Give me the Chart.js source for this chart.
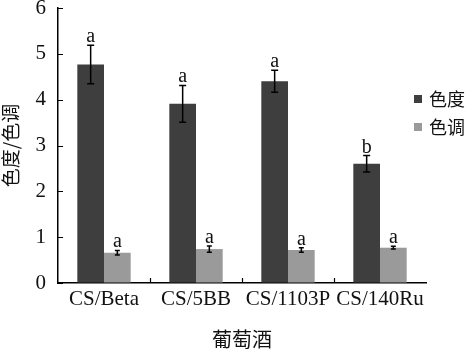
<!DOCTYPE html>
<html>
<head>
<meta charset="utf-8">
<script src="https://cdn.jsdelivr.net/npm/chart.js@4.4.0/dist/chart.umd.min.js"></script>
<style>
  html, body { margin: 0; padding: 0; background: #fff; }
  #wrap { width: 472px; height: 349px; }
</style>
</head>
<body>
<div id="wrap"><canvas id="chart"></canvas></div>
<script>
const wines = ["CS/Beta", "CS/5BB", "CS/1103P", "CS/140Ru"]
const seriesNames = ["色度", "色调"]
const intensity = [4.77, 3.91, 4.40, 2.60]
const intensityErr = [0.42, 0.40, 0.24, 0.18]
const intensityLetters = ["a", "a", "a", "b"]
const hue = [0.66, 0.74, 0.72, 0.77]
const hueErr = [0.05, 0.07, 0.05, 0.03]
const hueLetters = ["a", "a", "a", "a"]
const yTicks = [0, 1, 2, 3, 4, 5, 6]

const serif = "'Liberation Serif', 'Times New Roman', 'Noto Sans CJK SC', serif"
const cjk = "'Noto Sans CJK SC', 'Liberation Serif', sans-serif"
const ink = "#111"

// error bars plus significance letters on top of each bar
const errorBars = {
  id: "errorBars",
  afterDatasetsDraw(chart) {
    const ctx = chart.ctx
    const y = chart.scales.y
    chart.data.datasets.forEach((ds, i) => {
      const meta = chart.getDatasetMeta(i)
      meta.data.forEach((bar, j) => {
        const v = ds.data[j]
        const e = ds.errors[j]
        const top = y.getPixelForValue(v + e)
        const bottom = y.getPixelForValue(v - e)
        const cap = i === 0 ? 3.5 : 2.5
        ctx.save()
        ctx.strokeStyle = "#000"
        ctx.lineWidth = 1.5
        ctx.beginPath()
        ctx.moveTo(bar.x, top); ctx.lineTo(bar.x, bottom)
        ctx.moveTo(bar.x - cap, top); ctx.lineTo(bar.x + cap, top)
        ctx.moveTo(bar.x - cap, bottom); ctx.lineTo(bar.x + cap, bottom)
        ctx.stroke()
        ctx.fillStyle = ink
        ctx.font = "20px " + serif
        ctx.textAlign = "center"
        ctx.textBaseline = "alphabetic"
        ctx.fillText(ds.letters[j], bar.x, top - 3)
        ctx.restore()
      })
    })
  }
}

// short tick marks pointing into the plot area
const innerTicks = {
  id: "innerTicks",
  afterDraw(chart) {
    const ctx = chart.ctx
    const { x, y } = chart.scales
    const area = chart.chartArea
    ctx.save()
    ctx.strokeStyle = "#000"
    ctx.lineWidth = 1.2
    ctx.beginPath()
    yTicks.forEach(t => {
      const py = Math.round(y.getPixelForValue(t)) + 0.5
      ctx.moveTo(area.left, py); ctx.lineTo(area.left + 5, py)
    })
    for (let i = 1; i < wines.length; i++) {
      const px = Math.round((x.getPixelForValue(i - 1) + x.getPixelForValue(i)) / 2) + 0.5
      ctx.moveTo(px, area.bottom); ctx.lineTo(px, area.bottom - 5)
    }
    ctx.stroke()
    ctx.restore()
  }
}

// legend sitting inside the top right corner
const sideLegend = {
  id: "sideLegend",
  afterDraw(chart) {
    const ctx = chart.ctx
    const area = chart.chartArea
    ctx.save()
    chart.data.datasets.forEach((ds, i) => {
      const cy = area.top + 91 + i * 28
      ctx.fillStyle = ds.backgroundColor
      ctx.fillRect(area.right - 12, cy - 4, 8, 8)
      ctx.fillStyle = ink
      ctx.font = "18px " + cjk
      ctx.textAlign = "left"
      ctx.textBaseline = "middle"
      ctx.fillText(ds.label, area.right + 3, cy)
    })
    ctx.restore()
  }
}

new Chart(document.getElementById("chart"), {
  type: "bar",
  data: {
    labels: wines,
    datasets: [
      {
        label: seriesNames[0],
        data: intensity,
        errors: intensityErr,
        letters: intensityLetters,
        backgroundColor: "#3e3e3e",
        categoryPercentage: 0.58,
        barPercentage: 1
      },
      {
        label: seriesNames[1],
        data: hue,
        errors: hueErr,
        letters: hueLetters,
        backgroundColor: "#9a9a9a",
        categoryPercentage: 0.58,
        barPercentage: 1
      }
    ]
  },
  options: {
    responsive: true,
    maintainAspectRatio: false,
    animation: false,
    layout: { padding: { top: 8, right: 46, bottom: 0, left: 0 } },
    plugins: {
      legend: { display: false },
      tooltip: { enabled: false }
    },
    scales: {
      x: {
        grid: { display: true, drawOnChartArea: false, drawTicks: false },
        border: { display: true, color: "#000", width: 1.5 },
        ticks: {
          color: ink,
          font: { family: serif, size: 21 },
          padding: 4,
          maxRotation: 0,
          autoSkip: false
        },
        title: {
          display: true,
          text: "葡萄酒",
          color: ink,
          font: { family: cjk, size: 20, lineHeight: 1 },
          padding: { top: 4, bottom: 0 }
        },
        afterFit(scale) {
          scale.height = 66
          scale.paddingLeft = 0
          scale.paddingRight = 0
        }
      },
      y: {
        min: 0,
        max: 6,
        afterBuildTicks(scale) {
          scale.ticks = yTicks.map(v => ({ value: v }))
        },
        grid: { display: true, drawOnChartArea: false, drawTicks: false },
        border: { display: true, color: "#000", width: 1.5 },
        ticks: {
          color: ink,
          font: { family: serif, size: 21 },
          padding: 12
        },
        title: {
          display: true,
          text: "色度/色调",
          color: ink,
          font: { family: cjk, size: 19, lineHeight: 1 },
          padding: { top: 1, bottom: 0 }
        },
        afterFit(scale) {
          scale.width = 58
          scale.paddingTop = 0
          scale.paddingBottom = 0
        }
      }
    }
  },
  plugins: [errorBars, innerTicks, sideLegend]
})
</script>
</body>
</html>
